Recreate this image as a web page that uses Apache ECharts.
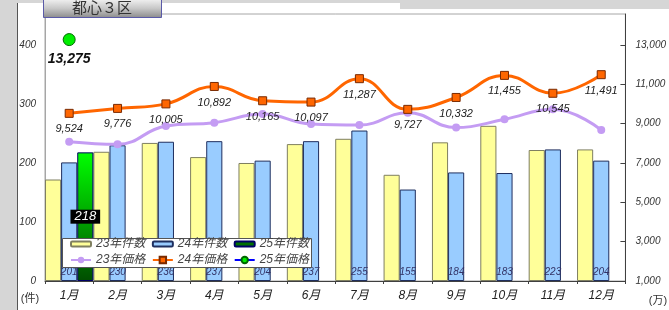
<!DOCTYPE html>
<html><head><meta charset="utf-8">
<script src="https://cdn.jsdelivr.net/npm/echarts@6/dist/echarts.min.js"></script>
<style>html,body{margin:0;padding:0;background:#fff}#c{width:669px;height:310px}</style>
</head><body><div id="c"></div>
<script>
const months = ['1月','2月','3月','4月','5月','6月','7月','8月','9月','10月','11月','12月'];
const count23 = [172,219,234,210,200,232,241,180,235,263,222,223];
const count24 = [201,230,236,237,204,237,255,155,184,183,223,204];
const count25 = [218,null,null,null,null,null,null,null,null,null,null,null];
const price23 = [8080,7950,8880,9050,9490,8980,8930,9560,8800,9220,9730,8680];
const price24 = [9524,9776,10005,10892,10165,10097,11287,9727,10332,11455,10545,11491];
const price25 = [13275,null,null,null,null,null,null,null,null,null,null,null];
const leftTicks = [0,100,200,300,400];
const rightTicks = [1000,3000,5000,7000,9000,11000,13000];
const seriesNames = ['23年件数','24年件数','25年件数','23年価格','24年価格','25年価格'];

const FONT = "'Liberation Sans','Noto Sans CJK JP',sans-serif";
const fmt = v => String(v).replace(/\B(?=(\d{3})+(?!\d))/g, ',');

const chart = echarts.init(document.getElementById('c'), null, {renderer:'canvas'});
chart.setOption({
  animation: false,
  textStyle: {fontFamily: FONT},
  grid: {left: 45, right: 38, top: 14, bottom: 29, show: true, borderColor: '#a6a6a6', borderWidth: 1, backgroundColor: 'transparent'},
  legend: [
    {data: [seriesNames[0], seriesNames[1], {name: seriesNames[2], itemStyle: {color: '#007000', borderColor: '#000066'}}],
     left: 70, top: 238, padding: 0, itemGap: 6.5, itemWidth: 20, itemHeight: 5, z: 10,
     textStyle: {fontSize: 12, fontStyle: 'italic', color: '#444', fontFamily: FONT}},
    {data: seriesNames.slice(3), left: 70, top: 254, padding: 0, itemGap: 6.5, itemWidth: 20, itemHeight: 8, z: 10,
     textStyle: {fontSize: 12, fontStyle: 'italic', color: '#444', fontFamily: FONT}}
  ],
  xAxis: {
    type: 'category', data: months, boundaryGap: true,
    axisLine: {lineStyle: {color: '#404040', width: 1}},
    axisTick: {show: true, length: 3, lineStyle: {color: '#404040'}},
    axisLabel: {fontSize: 12, fontStyle: 'italic', color: '#222', margin: 9, fontFamily: FONT}
  },
  yAxis: [
    {type: 'value', min: 0, max: 452.5, position: 'left',
     axisLine: {show: true, lineStyle: {color: '#a6a6a6'}}, axisTick: {show: false, customValues: leftTicks}, splitLine: {show: false},
     axisLabel: {customValues: leftTicks, fontSize: 10, fontStyle: 'italic', color: '#333', margin: 9, fontFamily: FONT}},
    {type: 'value', min: 1000, max: 14576, position: 'right',
     axisLine: {show: true, lineStyle: {color: '#404040'}},
     axisTick: {show: true, inside: true, length: 5, customValues: rightTicks, lineStyle: {color: '#404040'}},
     splitLine: {show: false},
     axisLabel: {customValues: rightTicks, formatter: v => fmt(v), fontSize: 10, fontStyle: 'italic', color: '#333', margin: 10, fontFamily: FONT}}
  ],
  series: [
    {name: '23年件数', type: 'bar', data: count23, barGap: '0%', barCategoryGap: '0%',
     itemStyle: {color: '#ffff99', borderColor: '#7f7f60', borderWidth: 1}},
    {name: '24年件数', type: 'bar', data: count24, barGap: '0%', barCategoryGap: '0%',
     itemStyle: {color: '#99ccff', borderColor: '#1f2f5f', borderWidth: 1},
     label: {show: true, position: 'insideBottom', distance: 4, fontSize: 10, fontStyle: 'italic', color: '#333366', fontFamily: FONT}},
    {name: '25年件数', type: 'bar', data: count25, barGap: '0%', barCategoryGap: '0%',
     itemStyle: {color: new echarts.graphic.LinearGradient(0,0,0,1,[{offset:0,color:'#00ff00'},{offset:1,color:'#004d00'}]), borderColor: '#000066', borderWidth: 1},
     label: {show: true, position: 'inside', fontSize: 13, fontStyle: 'italic', color: '#fff', backgroundColor: '#000', padding: [1,4,0,4], fontFamily: FONT}},
    {name: '23年価格', type: 'line', yAxisIndex: 1, data: price23, smooth: 0.45,
     symbol: 'circle', symbolSize: 8, lineStyle: {color: '#c49cf3', width: 3},
     itemStyle: {color: '#c49cf3'}},
    {name: '24年価格', type: 'line', yAxisIndex: 1, data: price24, smooth: 0.45,
     symbol: 'rect', symbolSize: 8, lineStyle: {color: '#ff6600', width: 3},
     itemStyle: {color: '#ff6600', borderColor: '#7a2a00', borderWidth: 1},
     label: {show: true, position: 'bottom', distance: 6, formatter: p => fmt(p.value), fontSize: 11, fontStyle: 'italic', color: '#222', fontFamily: FONT}},
    {name: '25年価格', type: 'line', yAxisIndex: 1, data: price25,
     symbol: 'circle', symbolSize: 12, lineStyle: {color: '#0000ff', width: 3},
     itemStyle: {color: '#00ee00', borderColor: '#006600', borderWidth: 1},
     label: {show: true, position: 'bottom', distance: 6, formatter: p => fmt(p.value), fontSize: 14, fontWeight: 'bold', fontStyle: 'italic', color: '#111', fontFamily: FONT}}
  ],
  graphic: [
    {type: 'rect', z: 20, shape: {x: 0, y: 0, width: 669, height: 3}, style: {fill: '#d6d6d6'}},
    {type: 'rect', z: 20, shape: {x: 400, y: 0, width: 269, height: 9}, style: {fill: '#d6d6d6'}},
    {type: 'rect', z: 20, shape: {x: 0, y: 0, width: 17, height: 310}, style: {fill: '#d6d6d6'}},
    {type: 'line', z: 21, shape: {x1: 17.5, y1: 3, x2: 17.5, y2: 310}, style: {stroke: '#555', lineWidth: 1}},
    {type: 'rect', z: 8, shape: {x: 62.5, y: 238.5, width: 249, height: 29}, style: {fill: '#fff', stroke: '#555', lineWidth: 1}},
    {type: 'group', z: 22, children: [
      {type: 'rect', z: 22, shape: {x: 43.5, y: -1, width: 118, height: 18.5},
       style: {fill: new echarts.graphic.LinearGradient(0,0,0,1,[{offset:0,color:'#f4f4f4'},{offset:0.5,color:'#c8c8c8'},{offset:1,color:'#8a8a8a'}]), stroke: '#5a5aa8', lineWidth: 1}},
      {type: 'text', z: 23, x: 102, y: 9, style: {text: '都心３区', fontSize: 15, fill: '#333', align: 'center', verticalAlign: 'middle', fontFamily: FONT}}
    ]},
    {type: 'text', z: 10, x: 30, y: 299, style: {text: '(件)', fontSize: 11, fill: '#333', align: 'center', verticalAlign: 'middle', fontFamily: FONT}},
    {type: 'text', z: 10, x: 658, y: 301, style: {text: '(万)', fontSize: 11, fill: '#333', align: 'center', verticalAlign: 'middle', fontFamily: FONT}}
  ]
});
</script></body></html>
